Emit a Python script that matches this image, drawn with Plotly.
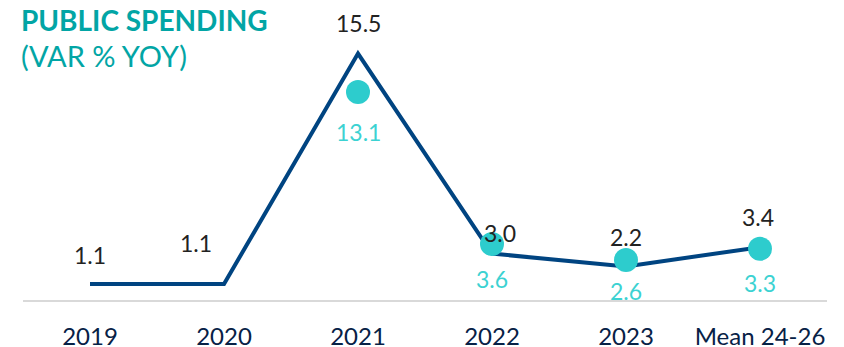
import plotly.graph_objects as go

categories = ["2019", "2020", "2021", "2022", "2023", "Mean 24-26"]
line_values = [1.1, 1.1, 15.5, 3.0, 2.2, 3.4]
dot_cats = ["2021", "2022", "2023", "Mean 24-26"]
dot_values = [13.1, 3.6, 2.6, 3.3]

NAVY = "#004481"
TEAL = "#2DCCCD"
TITLE = "#02A5A5"
FONT = "Lato"

fig = go.Figure()
fig.add_trace(go.Scatter(
    x=categories, y=line_values, mode="lines",
    line=dict(color=NAVY, width=4), hoverinfo="skip"))
fig.add_trace(go.Scatter(
    x=dot_cats, y=dot_values, mode="markers",
    marker=dict(color=TEAL, size=24), hoverinfo="skip"))

# black value labels above the line
x_shift = [0, -28, 0, 8, 0, -2]
y_shift = [29, 41, 31, 21, 29, 30]
for i, (v, xs, ys) in enumerate(zip(line_values, x_shift, y_shift)):
    fig.add_annotation(x=i, y=v, text=f"{v:.1f}", showarrow=False,
                       xshift=xs, yshift=ys,
                       font=dict(family=FONT, size=23, color="#222222"))

# teal value labels below the dots
d_yshift = [-40, -35, -31, -34]
for c, v, ys in zip(dot_cats, dot_values, d_yshift):
    fig.add_annotation(x=categories.index(c), y=v, text=f"{v:.1f}",
                       showarrow=False, yshift=ys,
                       font=dict(family=FONT, size=23, color="#3CD2D2"))

# title
fig.add_annotation(xref="paper", yref="paper", x=0, y=1, xanchor="left",
                   xshift=-4, yanchor="middle", showarrow=False,
                   text="<b>PUBLIC SPENDING</b>",
                   font=dict(family=FONT, size=28, color=TITLE))
fig.add_annotation(xref="paper", yref="paper", x=0, y=1 - 35 / 280,
                   xanchor="left", xshift=-4, yanchor="middle",
                   showarrow=False, text="(VAR % YOY)",
                   font=dict(family=FONT, size=29, color=TITLE))

# the page body adds an 8px offset; size and margins compensate for it
fig.update_layout(
    width=836, height=339,
    margin=dict(l=15, r=17, t=12, b=47, autoexpand=False),
    paper_bgcolor="white", plot_bgcolor="white",
    showlegend=False,
    xaxis=dict(type="category", range=[-0.5, 5.5], showgrid=False,
               showline=True, linecolor="#D9D9D9", linewidth=2,
               automargin=False, ticks="", ticklabelstandoff=14,
               tickfont=dict(family=FONT, size=24, color="#072146")),
    yaxis=dict(range=[0.1, 17.6], visible=False, showgrid=False,
               zeroline=False, automargin=False),
)
fig.write_html("out.html")
